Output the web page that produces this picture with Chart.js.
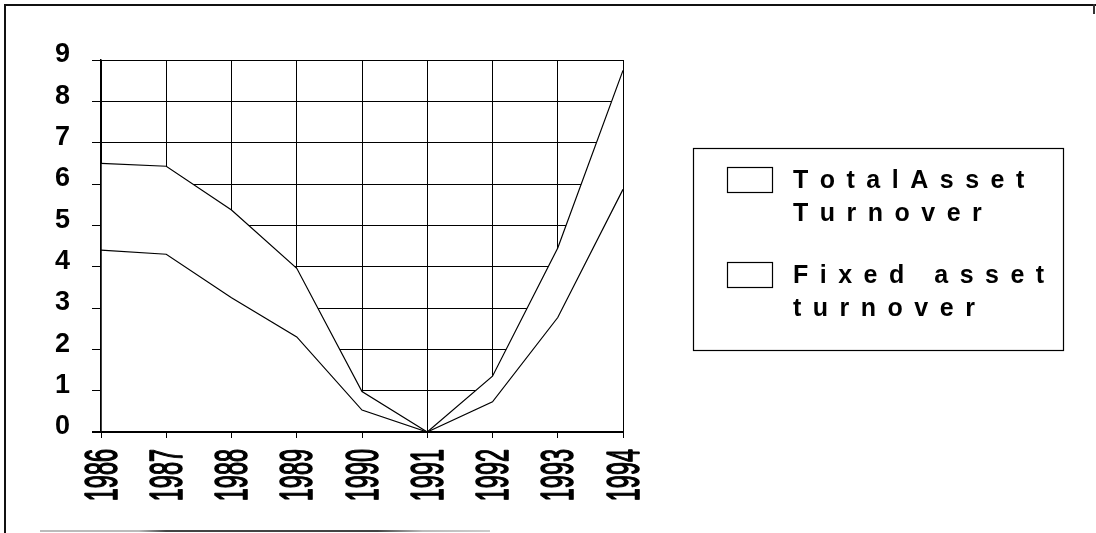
<!DOCTYPE html>
<html>
<head>
<meta charset="utf-8">
<script src="https://cdn.jsdelivr.net/npm/chart.js@4/dist/chart.umd.min.js"></script>
<style>
  html, body { margin: 0; padding: 0; background: #fff; }
  #wrap { position: relative; width: 1096px; height: 533px; overflow: hidden; }
  #frameTop { position: absolute; left: 4px; top: 4px; width: 1092px; height: 2px; background: #111; }
  #frameLeft { position: absolute; left: 4px; top: 4px; width: 2px; height: 529px; background: #111; }
  #frameRight { position: absolute; left: 1093px; top: 4px; width: 2px; height: 10px; background: #333; }
  #frameBottom { position: absolute; left: 40px; top: 530px; width: 450px; height: 2px;
                 background: linear-gradient(to right, #bbb 0%, #bbb 22%, #444 28%, #444 75%, #bbb 85%, #ccc 100%); }
  canvas { position: absolute; left: 0; top: 0; }
</style>
</head>
<body>
<div id="wrap">
  <canvas id="c" width="1096" height="533"></canvas>
  <div id="frameTop"></div>
  <div id="frameLeft"></div>
  <div id="frameRight"></div>
  <div id="frameBottom"></div>
</div>
<script>
// Years on the category axis
const years = ['1986', '1987', '1988', '1989', '1990', '1991', '1992', '1993', '1994'];

// Turnover ratios per year
const totalAssetTurnover = [4.4, 4.3, 3.25, 2.3, 0.53, 0, 0.73, 2.77, 5.87];
const fixedAssetTurnover = [6.5, 6.43, 5.37, 3.96, 0.98, 0, 1.35, 4.45, 8.75];

// Series names and how they wrap in the legend box
const seriesNames = ['Total Asset Turnover', 'Fixed asset turnover'];
const legendLines = [['TotalAsset', 'Turnover'], ['Fixed asset', 'turnover']];

// Value axis range
const yMin = 0;
const yMax = 9;
const yStep = 1;

const FONT = '"Liberation Sans", Arial, sans-serif';

// Re-strokes the two axis lines on top of the white area fills
const axisLinesPlugin = {
  id: 'axisLines',
  afterDatasetsDraw(chart) {
    const { ctx, chartArea: a } = chart;
    ctx.save();
    ctx.strokeStyle = '#000';
    ctx.lineWidth = 1.5;
    ctx.beginPath();
    ctx.moveTo(a.left, a.top);
    ctx.lineTo(a.left, a.bottom);
    ctx.stroke();
    ctx.lineWidth = 2;
    ctx.beginPath();
    ctx.moveTo(a.left - 9, a.bottom);
    ctx.lineTo(a.right, a.bottom);
    ctx.stroke();
    ctx.restore();
  }
};

// Draws the year labels rotated and condensed under each category tick
const yearLabelsPlugin = {
  id: 'yearLabels',
  afterDraw(chart) {
    const ctx = chart.ctx;
    const xs = chart.scales.x;
    const top = chart.chartArea.bottom + 17;
    ctx.save();
    ctx.fillStyle = '#000';
    ctx.strokeStyle = '#000';
    ctx.lineWidth = 1.6;
    ctx.lineJoin = 'round';
    ctx.font = '46px ' + FONT;
    ctx.textAlign = 'right';
    ctx.textBaseline = 'alphabetic';
    xs.getLabels().forEach((lab, i) => {
      const px = xs.getPixelForValue(i);
      ctx.save();
      ctx.translate(px + 15.5, top);
      ctx.rotate(-Math.PI / 2);
      ctx.scale(0.51, 1);
      ctx.fillText(lab, 0, 0);
      ctx.strokeText(lab, 0, 0);
      ctx.restore();
    });
    ctx.restore();
  }
};

// Boxed legend with spaced-out lettering on the right side
const boxLegendPlugin = {
  id: 'boxLegend',
  afterDraw(chart) {
    const ctx = chart.ctx;
    const bx = 693, by = 148, bw = 370, bh = 202;
    ctx.save();
    ctx.strokeStyle = '#000';
    ctx.lineWidth = 1.2;
    ctx.strokeRect(bx + 0.5, by + 0.5, bw, bh);

    ctx.font = 'bold 25px ' + FONT;
    ctx.fillStyle = '#000';
    ctx.textBaseline = 'alphabetic';
    const spacing = 11.5;
    const entryTops = [167, 262];
    chart.data.datasets.forEach((ds, d) => {
      const iy = entryTops[d];
      ctx.fillStyle = '#fff';
      ctx.fillRect(727, iy, 45, 25);
      ctx.strokeStyle = '#000';
      ctx.lineWidth = 1.2;
      ctx.strokeRect(727.5, iy + 0.5, 45, 25);
      ctx.fillStyle = '#000';
      const lines = legendLines[d];
      lines.forEach((line, k) => {
        let x = 793;
        const y = iy + 21 + k * 33;
        for (const ch of line) {
          ctx.fillText(ch, x, y);
          x += ctx.measureText(ch).width + spacing;
        }
      });
    });
    ctx.restore();
  }
};

new Chart(document.getElementById('c'), {
  type: 'line',
  data: {
    labels: years,
    datasets: [
      {
        label: seriesNames[0],
        data: totalAssetTurnover,
        borderColor: '#000',
        borderWidth: 1.2,
        backgroundColor: '#fff',
        fill: 'origin',
        pointRadius: 0,
        tension: 0
      },
      {
        label: seriesNames[1],
        data: fixedAssetTurnover,
        borderColor: '#000',
        borderWidth: 1.2,
        backgroundColor: '#fff',
        fill: 'origin',
        pointRadius: 0,
        tension: 0
      }
    ]
  },
  options: {
    responsive: false,
    animation: false,
    devicePixelRatio: 1,
    layout: { padding: { top: 60, right: 473, bottom: 0, left: 0 } },
    plugins: {
      legend: { display: false },
      tooltip: { enabled: false }
    },
    scales: {
      x: {
        type: 'category',
        offset: false,
        afterFit(s) { s.height = 101; },
        grid: { color: '#000', lineWidth: 1, tickLength: 6, drawTicks: true },
        border: { color: '#000', width: 2 },
        ticks: { display: false }
      },
      y: {
        min: yMin,
        max: yMax,
        afterFit(s) { s.width = 101; },
        grid: { color: '#000', lineWidth: 1, tickLength: 9 },
        border: { color: '#000', width: 1.5 },
        ticks: {
          stepSize: yStep,
          color: '#000',
          padding: 22,
          labelOffset: -5,
          font: { family: FONT, size: 27, weight: 'bold' }
        }
      }
    }
  },
  plugins: [axisLinesPlugin, yearLabelsPlugin, boxLegendPlugin]
});
</script>
</body>
</html>
